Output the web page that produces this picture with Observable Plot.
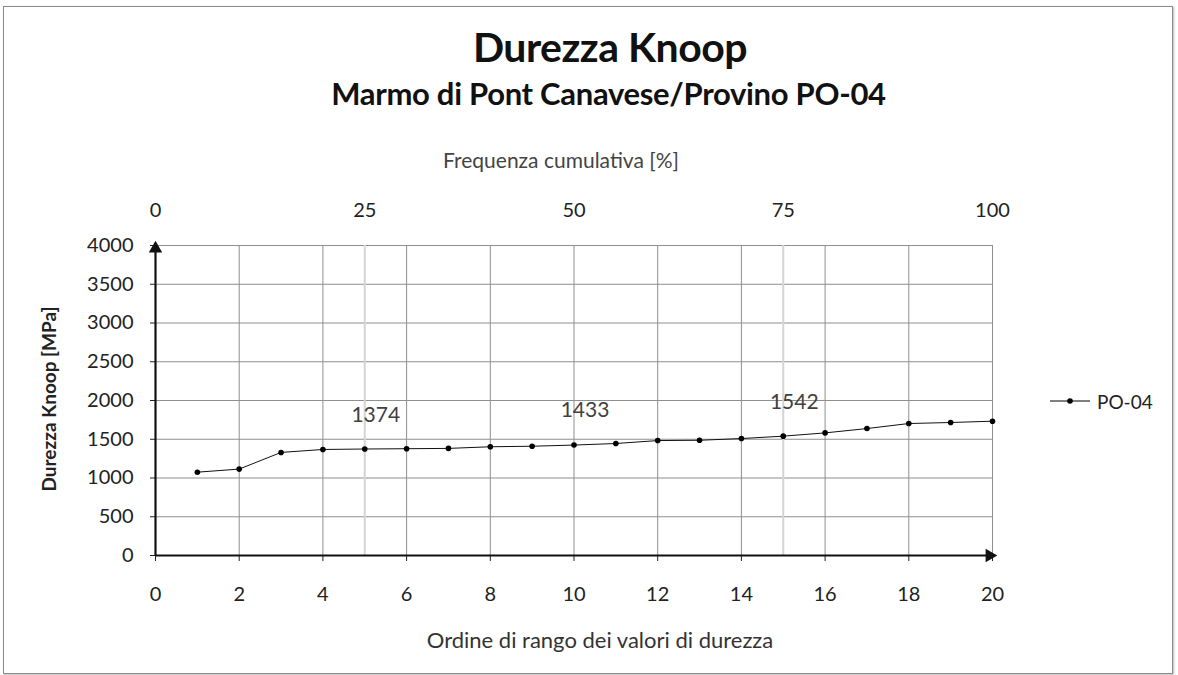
<!DOCTYPE html>
<html><head><meta charset="utf-8">
<script src="https://cdn.jsdelivr.net/npm/d3@7"></script>
<script src="https://cdn.jsdelivr.net/npm/@observablehq/plot@0.6"></script>
<style>
body{margin:0;background:#fff;font-family:Lato,"Open Sans",sans-serif;}
#wrap{position:relative;width:1178px;height:675px;overflow:hidden;background:#fff;}
#frame{position:absolute;left:3px;top:6px;width:1170px;height:668px;border:1px solid #8a8a8a;box-shadow:1px 1px 2px #bbb;box-sizing:border-box;}
.t{position:absolute;white-space:nowrap;color:#111;line-height:1;}
#title{left:0;width:1220px;top:26px;text-align:center;font-size:41px;font-weight:bold;letter-spacing:-0.5px;}
#subtitle{left:0;width:1217px;top:78px;text-align:center;font-size:31px;font-weight:bold;letter-spacing:-0.3px;}
#toplabel{left:0;width:1122px;top:149px;text-align:center;font-size:21px;color:#444;}
#xlabel{left:0;width:1200px;top:629px;text-align:center;font-size:22px;color:#333;}
#ylabel{left:48px;top:399px;transform:translate(-50%,-50%) rotate(-90deg);font-size:19px;font-weight:bold;color:#222;}
#legend{left:1048px;top:390px;font-size:19px;color:#222;display:flex;align-items:center;}
#plot{position:absolute;left:0;top:0;}
</style></head>
<body>
<div id="wrap">
<div id="frame"></div>
<div id="plot"></div>
<div class="t" id="title">Durezza Knoop</div>
<div class="t" id="subtitle">Marmo di Pont Canavese/Provino PO-04</div>
<div class="t" id="toplabel">Frequenza cumulativa [%]</div>
<div class="t" id="xlabel">Ordine di rango dei valori di durezza</div>
<div class="t" id="ylabel">Durezza Knoop [MPa]</div>
<div class="t" id="legend"><svg width="46" height="22"><line x1="2" y1="11" x2="42" y2="11" stroke="#000" stroke-width="1"/><circle cx="22" cy="11" r="2.8" fill="#000"/></svg><span style="margin-left:3px">PO-04</span></div>
</div>
<script>
const seriesName = "PO-04";
const ranks = [1,2,3,4,5,6,7,8,9,10,11,12,13,14,15,16,17,18,19,20];
const hardness = [1075,1115,1330,1368,1374,1378,1382,1403,1410,1425,1445,1483,1487,1509,1540,1582,1638,1703,1716,1733];
const rankTicks = [0,2,4,6,8,10,12,14,16,18,20];
const hardTicks = [0,500,1000,1500,2000,2500,3000,3500,4000];
const freqTicks = [0,25,50,75,100];
const quartileFreq = [25,50,75];
const quartileValues = [1374,1433,1542];

const xDomain = [0, 20];
const yDomain = [0, 4000];
const nMax = ranks.length;
const freqToRank = f => f / 100 * nMax;

const data = ranks.map((r, i) => ({rank: r, hv: hardness[i]}));
const freqPos = freqTicks.map(freqToRank);
const quartiles = quartileFreq.map((f, i) => ({rank: freqToRank(f), hv: quartileValues[i], label: String(quartileValues[i])}));
const minorGrid = freqPos.filter(p => !rankTicks.includes(p));

const chart = Plot.plot({
  width: 1178, height: 675,
  marginLeft: 155, marginRight: 186, marginTop: 245, marginBottom: 120,
  style: {background: "transparent", fontFamily: "Lato, 'Open Sans', sans-serif", color: "#222"},
  x: {domain: xDomain},
  y: {domain: yDomain},
  marks: [
    Plot.gridY(hardTicks, {stroke: "#8f8f8f", strokeOpacity: 1, strokeWidth: 1}),
    Plot.gridX(minorGrid, {stroke: "#d4d4d4", strokeOpacity: 1, strokeWidth: 2}),
    Plot.gridX(rankTicks.filter(d => d > xDomain[0]), {stroke: "#8f8f8f", strokeOpacity: 1, strokeWidth: 1}),
    Plot.axisX(rankTicks, {anchor: "bottom", tickSize: 6, tickPadding: 25, fontSize: 20, label: null, tickFormat: d => String(d)}),
    Plot.axisX(freqPos, {anchor: "top", tickSize: 0, tickPadding: 29, fontSize: 20, label: null,
      tickFormat: d => String(freqTicks[freqPos.indexOf(d)])}),
    Plot.axisY(hardTicks, {anchor: "left", tickSize: 5, tickPadding: 17, fontSize: 20, label: null, tickFormat: d => String(d)}),
    Plot.ruleX([xDomain[0]], {y1: yDomain[0], y2: yDomain[1], stroke: "#111", strokeWidth: 2.2}),
    Plot.ruleY([yDomain[0]], {x1: xDomain[0], x2: xDomain[1], stroke: "#111", strokeWidth: 2.2}),
    Plot.dot([{x: xDomain[0], y: yDomain[1]}], {x: "x", y: "y", symbol: "triangle", r: 5, fill: "#111", stroke: null, dy: 3}),
    Plot.dot([{x: xDomain[1], y: yDomain[0]}], {x: "x", y: "y", symbol: "triangle", r: 5, fill: "#111", stroke: null, rotate: 90, dx: -3}),
    Plot.line(data, {x: "rank", y: "hv", stroke: "#111", strokeWidth: 1}),
    Plot.dot(data, {x: "rank", y: "hv", r: 2.8, fill: "#000", stroke: null}),
    Plot.text(quartiles, {x: "rank", y: "hv", text: "label", dx: 11, dy: -34, fontSize: 21, fill: "#404040"})
  ]
});
document.getElementById("plot").appendChild(chart);
</script>
</body></html>
